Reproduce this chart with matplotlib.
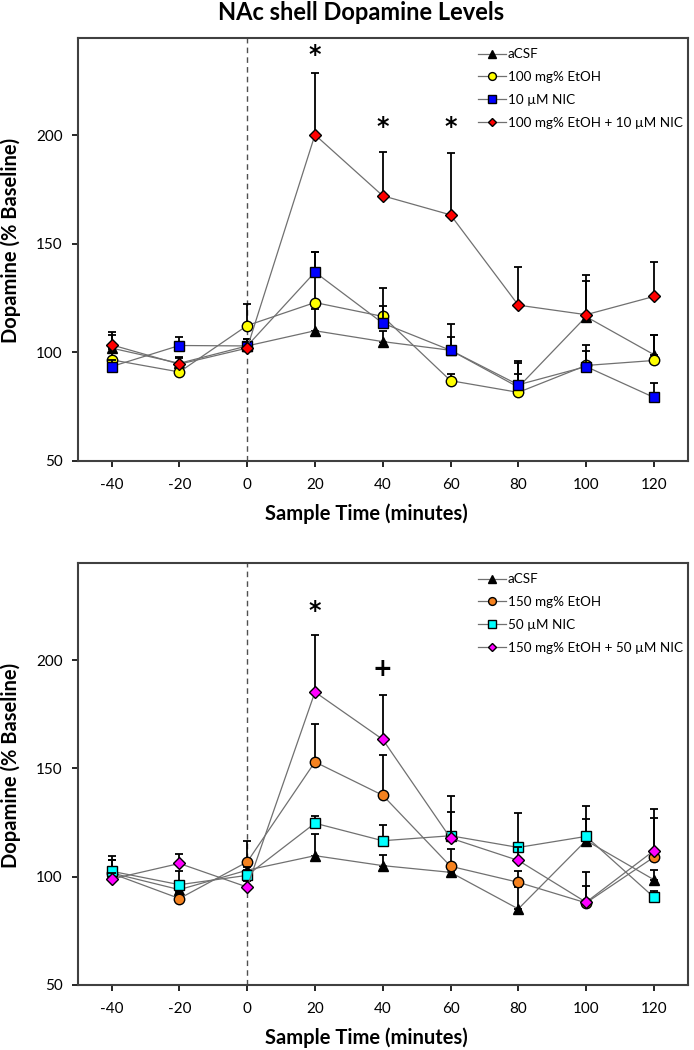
import matplotlib
matplotlib.use('Agg')
import matplotlib.pyplot as plt
import numpy as np

plt.rcParams['font.family'] = ['Lato', 'DejaVu Sans']
plt.rcParams['axes.unicode_minus'] = False

times = [-40, -20, 0, 20, 40, 60, 80, 100, 120]

# top panel: 100 mg% EtOH / 10 uM NIC
top_labels = ['aCSF', '100 mg% EtOH', '10 \u00b5M NIC', '100 mg% EtOH + 10 \u00b5M NIC']
top_acsf = [102, 95, 103, 110, 105, 101, 84, 116.5, 99]
top_acsf_err = [6, 3, 3, 10, 5, 6, 11, 16.4, 9]
top_etoh = [96.6, 91, 112.4, 123, 116.6, 87, 81.6, 94, 96.3]
top_etoh_err = [5, 3, 10, 23.5, 13, 3, 8.5, 6.5, 11.7]
top_nic = [93.5, 103.2, 103, 137, 113.5, 101, 85.1, 93.5, 79.3]
top_nic_err = [3, 3.8, 3, 9.5, 8, 12.2, 10.8, 10, 6.6]
top_combo = [103.5, 94.6, 102, 200.3, 172.2, 163.4, 121.8, 117.4, 125.8]
top_combo_err = [5.7, 3, 3, 28.7, 20.4, 28.5, 17.8, 18.1, 15.8]
top_marks = [(20, 237, '*'), (40, 204, '*'), (60, 204, '*')]

# bottom panel: 150 mg% EtOH / 50 uM NIC
bot_labels = ['aCSF', '150 mg% EtOH', '50 \u00b5M NIC', '150 mg% EtOH + 50 \u00b5M NIC']
bot_acsf = [101.7, 94, 103, 109.7, 105.1, 102, 85.1, 116.7, 98.6]
bot_acsf_err = [6, 3, 3, 10.1, 5, 3, 10, 9.9, 4.6]
bot_etoh = [101.5, 89.9, 106.8, 153, 137.6, 104.8, 97.4, 87.9, 109]
bot_etoh_err = [6, 3, 9.9, 17.5, 18.4, 8, 5, 7.6, 18.3]
bot_nic = [102.5, 96.3, 100.6, 124.7, 116.6, 118.9, 113.5, 118.6, 90.5]
bot_nic_err = [7.2, 6.2, 4, 3.4, 7.1, 18.4, 15.8, 14.1, 3]
bot_combo = [98.9, 106.1, 95.2, 185.3, 163.4, 117.8, 107.5, 88.2, 112]
bot_combo_err = [3, 4.3, 3, 26.2, 20.5, 12, 6, 14, 19.2]
bot_marks = [(20, 222.7, '*'), (40, 196, '+')]

styles = [('^', 'black', 7), ('o', '#FFFF00', 7.5), ('s', '#0000FF', 7.5), ('D', '#FF0000', 6)]
bot_colors = ['black', '#F5821F', '#00FFFF', '#FF00FF']


def panel(ax, series, errs, labels, colors, marks):
    ax.axvline(0, color='#505050', ls=(0, (4, 3)), lw=1, zorder=1)
    for i, (vals, err) in enumerate(zip(series, errs)):
        m, _, ms = styles[i]
        ax.errorbar(times, vals, yerr=[np.zeros(len(err)), err], fmt='none',
                    ecolor='black', elinewidth=1.3, capsize=3, capthick=1.3,
                    zorder=2 + i)
        ax.plot(times, vals, color='#707070', lw=0.9, marker=m, ms=ms,
                mfc=colors[i], mec='black', mew=1, label=labels[i], zorder=2 + i)
    for x, y, s in marks:
        ax.text(x, y, s, ha='center', va='center', fontsize=17, fontweight='bold',
                family='DejaVu Sans')
    ax.set_xlim(-50, 130)
    ax.set_ylim(50, 245)
    ax.set_xticks(times)
    ax.set_yticks([50, 100, 150, 200])
    ax.tick_params(direction='out', length=4, width=1.2, labelsize=11)
    ax.tick_params(axis='x', pad=8)
    ax.tick_params(axis='y', pad=7)
    for sp in ax.spines.values():
        sp.set_linewidth(1.5)
        sp.set_color('#404040')
    ax.set_xlabel('Sample Time (minutes)', fontsize=14.5, fontweight='bold', va='center')
    ax.xaxis.set_label_coords(0.473, -0.125)
    ax.set_ylabel('Dopamine (% Baseline)', fontsize=14.5, fontweight='bold',
                  va='center')
    ax.yaxis.set_label_coords(-0.11, 0.52)
    ax.legend(loc='upper left', bbox_to_anchor=(0.656, 0.975), frameon=False,
              fontsize=9.7, handlelength=2.05, labelspacing=0.8,
              handletextpad=0.15, markerscale=0.75, borderpad=0, borderaxespad=0)


fig = plt.figure(figsize=(6.94, 10.5), dpi=100)
ax1 = fig.add_axes([0.112, 0.561, 0.879, 0.403])
ax2 = fig.add_axes([0.112, 0.062, 0.879, 0.402])

panel(ax1, [top_acsf, top_etoh, top_nic, top_combo],
      [top_acsf_err, top_etoh_err, top_nic_err, top_combo_err],
      top_labels, [s[1] for s in styles], top_marks)
panel(ax2, [bot_acsf, bot_etoh, bot_nic, bot_combo],
      [bot_acsf_err, bot_etoh_err, bot_nic_err, bot_combo_err],
      bot_labels, bot_colors, bot_marks)

fig.text(0.52, 0.988, 'NAc shell Dopamine Levels', ha='center', va='center',
         fontsize=17, fontweight='bold')

fig.savefig('out.png', dpi=100)
